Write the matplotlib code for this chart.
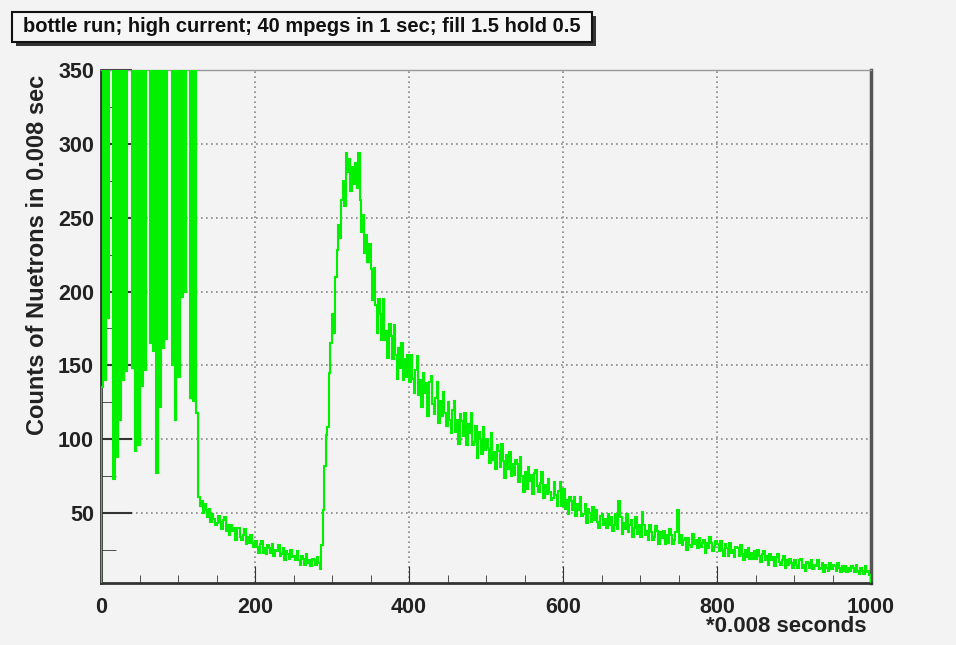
import numpy as np
import matplotlib.pyplot as plt
from matplotlib.patches import Rectangle

# counts per 2-unit bin (values > 350 run off the top)
pulse_counts = [
    135, 500, 140, 500, 182,                                # 0-10
    500, 500, 500,                                          # 10-16
    73, 500, 88, 500, 113, 500, 140, 500, 146,              # 16-34
    500, 500, 500,                                          # 34-40
    148, 500, 92, 500, 96, 500, 136, 500, 147,              # 40-58
    500, 500, 500,                                          # 58-64
    165, 500, 160, 500, 77, 500, 122, 500, 162, 500, 168,   # 64-86
    500, 500, 500,                                          # 86-92
    150, 500, 113, 500, 142, 500, 196, 500, 200,            # 92-110
    500, 500, 500,                                          # 110-116
    128, 500, 126, 500, 118,                                # 116-126
]

tail_counts = [
    # 126-150
    61, 55, 58, 50, 56, 52, 47, 53, 44, 49, 46, 42,
    # 150-200
    43, 48, 44, 39, 45, 47, 38, 42, 35, 42, 38, 40, 32, 40, 40, 34, 32, 35, 39, 29, 34, 30, 35, 30, 27,
    # 200-250
    31, 27, 23, 29, 31, 23, 26, 22, 28, 26, 23, 29, 21, 25, 24, 28, 21, 22, 26, 18, 24, 22, 19, 25, 20,
    # 250-286
    21, 18, 24, 18, 15, 21, 19, 15, 22, 16, 18, 14, 19, 18, 15, 20, 16, 12,
    # 286-300
    28, 52, 82, 103, 108, 145, 165,
    # 300-350
    185, 172, 210, 228, 245, 236, 262, 275, 258, 294, 281, 290, 268, 284, 273, 287, 270, 294, 262, 240,
    252, 226, 238, 220, 232,
    # 350-400
    215, 194, 216, 191, 172, 195, 185, 167, 195, 167, 173, 155, 178, 170, 154, 177, 157, 141, 162, 148,
    165, 140, 154, 142, 157,
    # 400-450
    139, 157, 141, 131, 147, 156, 130, 140, 122, 145, 131, 138, 116, 139, 143, 124, 117, 128, 139, 111,
    126, 116, 132, 118, 109,
    # 450-500
    125, 113, 104, 120, 126, 105, 113, 97, 117, 112, 102, 118, 96, 110, 104, 118, 96, 98, 109, 87,
    105, 100, 90, 108, 93,
    # 500-550
    100, 94, 84, 104, 86, 91, 80, 96, 92, 81, 97, 85, 74, 89, 80, 91, 75, 83, 76, 86, 83, 71, 88, 75, 64,
    # 550-600
    78, 66, 81, 72, 76, 63, 77, 79, 68, 64, 70, 78, 60, 69, 63, 73, 64, 59, 60, 71, 62, 55, 65, 71, 55,
    # 600-650
    66, 53, 59, 49, 61, 58, 52, 61, 48, 56, 52, 61, 48, 49, 56, 43, 53, 50, 44, 54, 45, 52, 44, 40, 48,
    # 650-700
    49, 42, 46, 40, 49, 42, 47, 38, 42, 49, 39, 58, 47, 36, 43, 39, 49, 37, 42, 45, 34, 40, 47, 36, 42,
    # 700-750
    34, 51, 42, 35, 38, 32, 42, 37, 32, 34, 41, 38, 29, 37, 33, 38, 29, 35, 30, 39, 35, 29, 32, 37, 52,
    # 750-800
    30, 35, 28, 32, 33, 25, 33, 28, 27, 36, 29, 32, 26, 33, 27, 30, 32, 23, 30, 26, 34, 30, 24, 27, 31,
    # 800-850
    29, 24, 31, 25, 21, 29, 26, 21, 30, 23, 25, 20, 27, 26, 21, 28, 22, 18, 25, 20, 26, 19, 23, 19, 24,
    # 850-900
    19, 25, 21, 17, 22, 24, 18, 21, 15, 22, 18, 20, 14, 20, 22, 17, 15, 18, 21, 13, 18, 15, 19, 16, 13,
    # 900-950
    18, 15, 13, 18, 19, 13, 15, 11, 17, 16, 13, 18, 12, 15, 14, 18, 12, 13, 16, 10, 15, 13, 11, 16, 12,
    # 950-1000
    15, 14, 11, 16, 13, 10, 14, 11, 14, 10, 13, 11, 14, 13, 10, 15, 11, 9, 13, 11, 9, 14, 10, 11, 8,
]

title = 'bottle run; high current; 40 mpegs in 1 sec; fill 1.5 hold 0.5'
x_label = '*0.008 seconds'
y_label = 'Counts of Nuetrons in 0.008 sec'
x_ticks = [0, 200, 400, 600, 800, 1000]
y_ticks = [50, 100, 150, 200, 250, 300, 350]

counts = np.array(pulse_counts + tail_counts, dtype=float)
edges = np.linspace(0, 1000, len(counts) + 1)

plt.rcParams['font.family'] = ['Liberation Sans', 'DejaVu Sans']
bg = '#f3f3f3'
ink = '#222222'

fig = plt.figure(figsize=(9.56, 6.45), dpi=100, facecolor=bg)
ax = fig.add_axes([101 / 956, 1 - 583 / 645, 770 / 956, 513 / 645])
ax.set_facecolor(bg)

ax.stairs(counts, edges, color='#00f000', lw=1.5, zorder=3)

ax.set_xlim(0, 1000)
ax.set_ylim(2.6, 350)
ax.set_xticks(x_ticks)
ax.set_xticks(np.arange(0, 1001, 50), minor=True)
ax.set_yticks(y_ticks)
ax.set_yticks(np.arange(25, 351, 25), minor=True)
ax.tick_params(axis='both', which='both', direction='in', colors='#333333',
               labelsize=15.5, labelcolor=ink)
ax.tick_params(axis='x', which='major', length=12, pad=10)
ax.tick_params(axis='x', which='minor', length=6)
ax.tick_params(axis='y', which='major', length=22, width=1.5, pad=5)
ax.tick_params(axis='y', which='minor', length=11)
for lbl in ax.get_xticklabels() + ax.get_yticklabels():
    lbl.set_fontweight('bold')
ax.grid(True, which='major', color='#888888', linestyle=(0, (1, 2)), lw=1.2, zorder=1)

for side in ['left', 'bottom']:
    ax.spines[side].set_color('#333333')
    ax.spines[side].set_linewidth(2)
ax.spines['right'].set_color('#555555')
ax.spines['right'].set_linewidth(2.5)
ax.spines['top'].set_color('#999999')
ax.spines['top'].set_linewidth(1)

ax.set_ylabel(y_label, fontsize=17, fontweight='bold', color=ink, loc='top')
ax.yaxis.set_label_coords((49 - 101) / 770, 1 - 5 / 513)
fig.text(866 / 956, 1 - 627 / 645, x_label, fontsize=16, fontweight='bold',
         color=ink, ha='right', va='center')

# title box with shadow
fig.patches.append(Rectangle((16 / 956, 1 - 46 / 645), 580 / 956, 30 / 645,
                             transform=fig.transFigure, facecolor='#333333',
                             edgecolor='none', zorder=1))
fig.patches.append(Rectangle((12 / 956, 1 - 42 / 645), 580 / 956, 30 / 645,
                             transform=fig.transFigure, facecolor='#f6f6f6',
                             edgecolor='#111111', lw=1.5, zorder=2))
fig.text(302 / 956, 1 - 27 / 645, title, fontsize=14.5, fontweight='bold',
         ha='center', va='center', color='#111111', zorder=3)

fig.savefig('out.png', dpi=100, facecolor=bg)
